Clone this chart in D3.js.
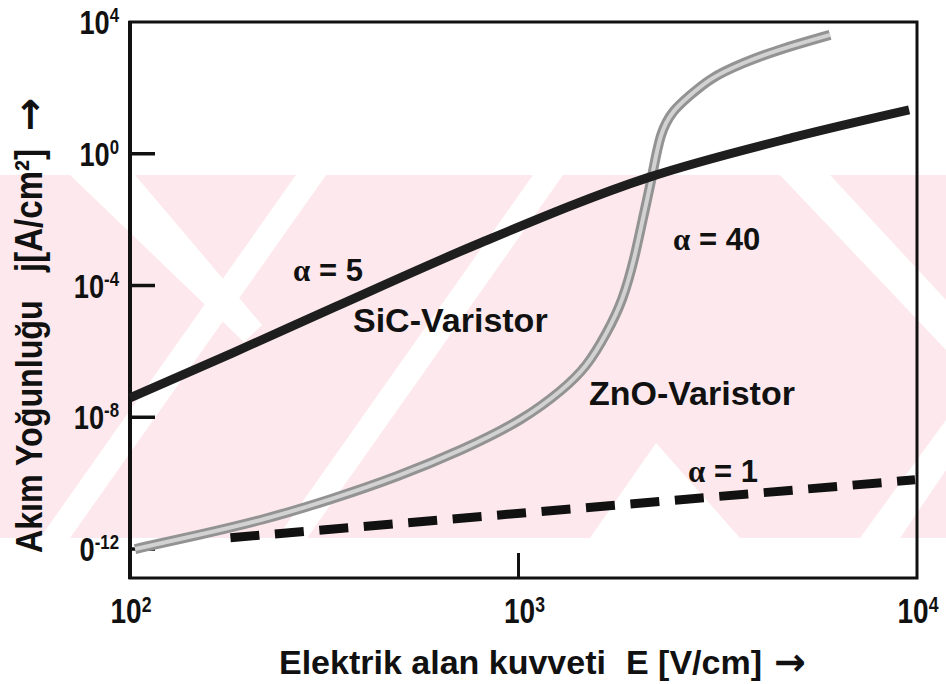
<!DOCTYPE html>
<html>
<head>
<meta charset="utf-8">
<script src="https://cdn.jsdelivr.net/npm/d3@7/dist/d3.min.js"></script>
<style>
  body { margin: 0; background: #fff; }
  text { font-family: "Liberation Sans", Arial, sans-serif; font-weight: bold; fill: #111; }
</style>
</head>
<body>
<script>
// electric field E [V/cm] and current density j [A/cm2]
var sicE = [100, 182, 331, 776, 2089, 4898, 9550];
var sicJ = [3.9e-8, 8.9e-7, 2.2e-5, 1.95e-3, 0.195, 3.24, 21.4];

var znoE = [103, 148, 218, 322, 478, 701, 998, 1259, 1449, 1629, 1791, 1919, 2014, 2123, 2223, 2399, 2618, 2979, 3614, 4406, 6012];
var znoJ = [1.0e-12, 2.6e-12, 7.6e-12, 3.1e-11, 1.55e-10, 1.02e-9, 8.3e-9, 6.8e-8, 3.4e-7, 3.6e-6, 3.6e-5, 7.4e-4, 0.012, 0.195, 4.5, 21, 52, 200, 575, 1410, 4070];

var ohmE = [180, 9886];
var ohmJ = [2.2e-12, 1.26e-10];

// tick positions and labels
var xTicks = [1e2, 1e3, 1e4];
var xTickExp = ["2", "3", "4"];
var yLabelVals = [1e4, 1, 1e-4, 1e-8, 1e-12];
var yLabelBase = ["10", "10", "10", "10", "0"];
var yLabelExp = ["4", "0", "-4", "-8", "-12"];
var yTickMarks = [1, 1e-4, 1e-8, 1e-12];
var xTickMarks = [1e3];

var width = 946, height = 684;

var svg = d3.select("body").append("svg")
    .attr("width", width)
    .attr("height", height);

var x = d3.scaleLog().domain([1e2, 1e4]).range([130, 917]);
var y = d3.scaleLog().domain([Math.pow(10, -12.88), 1e4]).range([578, 22]);

// faint pink watermark band behind the chart
var wm = svg.append("g");
wm.append("rect").attr("x", 0).attr("y", 175).attr("width", width).attr("height", 363)
    .attr("fill", "#fde9ed");
var whiteShapes = [
  [[70,175],[135,175],[262,325],[244,342]],
  [[40,538],[70,538],[326,175],[296,175]],
  [[277,538],[307,538],[563,175],[533,175]],
  [[590,538],[656,443],[740,538]],
  [[780,175],[830,175],[946,300],[946,350]],
  [[860,538],[900,538],[946,470],[946,420]]
];
wm.selectAll("polygon").data(whiteShapes).enter().append("polygon")
    .attr("points", function(d) { return d.join(" "); })
    .attr("fill", "#fff");

// frame
svg.append("rect")
    .attr("x", x.range()[0]).attr("y", y.range()[1])
    .attr("width", x.range()[1] - x.range()[0])
    .attr("height", y.range()[0] - y.range()[1])
    .attr("fill", "none").attr("stroke", "#111").attr("stroke-width", 3);
svg.append("line")
    .attr("x1", 130).attr("x2", 130).attr("y1", 21).attr("y2", 579)
    .attr("stroke", "#111").attr("stroke-width", 4);

// inward ticks
svg.selectAll(".ytick").data(yTickMarks).enter().append("line")
    .attr("x1", 130).attr("x2", 155)
    .attr("y1", function(d) { return y(d); }).attr("y2", function(d) { return y(d); })
    .attr("stroke", "#111").attr("stroke-width", 3.5);
svg.selectAll(".xtick").data(xTickMarks).enter().append("line")
    .attr("x1", function(d) { return x(d) - 5; }).attr("x2", function(d) { return x(d) - 5; })
    .attr("y1", 578).attr("y2", 553)
    .attr("stroke", "#111").attr("stroke-width", 3);

var line = d3.line()
    .x(function(d) { return x(d[0]); })
    .y(function(d) { return y(d[1]); })
    .curve(d3.curveMonotoneX);
var smooth = d3.line()
    .x(function(d) { return x(d[0]); })
    .y(function(d) { return y(d[1]); })
    .curve(d3.curveBasis);

// ohmic reference, alpha = 1
svg.append("path")
    .attr("d", line(d3.zip(ohmE, ohmJ)))
    .attr("fill", "none").attr("stroke", "#111").attr("stroke-width", 9)
    .attr("stroke-dasharray", "29 15.6");

// ZnO varistor (grey band)
var zno = d3.zip(znoE, znoJ);
svg.append("path").attr("d", smooth(zno))
    .attr("fill", "none").attr("stroke", "#939393").attr("stroke-width", 10);
svg.append("path").attr("d", smooth(zno))
    .attr("fill", "none").attr("stroke", "#d2d2d2").attr("stroke-width", 4);

// SiC varistor (dark band)
svg.append("path").attr("d", line(d3.zip(sicE, sicJ)))
    .attr("fill", "none").attr("stroke", "#1e1e1e").attr("stroke-width", 9);

// y tick labels
var yl = svg.selectAll(".ylab").data(yLabelVals).enter().append("g")
    .attr("transform", function(d) { return "translate(119," + (y(d) + 12) + ") scale(0.8,1)"; });
var ylt = yl.append("text").attr("text-anchor", "end").style("font-size", "34px");
ylt.append("tspan").text(function(d, i) { return yLabelBase[i]; });
ylt.append("tspan").attr("dy", -12).style("font-size", "21px").text(function(d, i) { return yLabelExp[i]; });

// x tick labels
var xl = svg.selectAll(".xlab").data(xTicks).enter().append("g")
    .attr("transform", function(d) { return "translate(" + (x(d) + 1) + ",623) scale(0.8,1)"; });
var xlt = xl.append("text").attr("text-anchor", "middle").style("font-size", "35px");
xlt.append("tspan").text("10");
xlt.append("tspan").attr("dy", -11).style("font-size", "22px").text(function(d, i) { return xTickExp[i]; });

// axis titles
svg.append("text").attr("x", 279).attr("y", 674).style("font-size", "34px").text("Elektrik alan kuvveti");
svg.append("text").attr("x", 626).attr("y", 674).style("font-size", "34px").text("E [V/cm]");
svg.append("text").attr("x", 774).attr("y", 675)
    .style("font-family", "'DejaVu Sans', sans-serif").style("font-size", "38px").text("\u2192");

svg.append("g").attr("transform", "translate(42,553) rotate(-90) scale(0.87,1)")
  .append("text").style("font-size", "37px").text("Akım Yoğunluğu");
svg.append("g").attr("transform", "translate(42,272) rotate(-90) scale(0.87,1)")
  .append("text").style("font-size", "38px").text("j[A/cm²]");
svg.append("g").attr("transform", "translate(43,131) rotate(-90)")
  .append("text").style("font-family", "'DejaVu Sans', sans-serif").style("font-size", "40px").text("\u2192");

// curve annotations
function alphaLabel(px, py, val) {
  var t = svg.append("text").attr("x", px).attr("y", py).style("font-size", "31px");
  t.append("tspan").style("font-family", "'Liberation Serif', serif").text("α");
  t.append("tspan").text(" = " + val);
}
alphaLabel(293, 281, "5");
alphaLabel(673, 250, "40");
alphaLabel(688, 482, "1");
svg.append("text").attr("x", 353).attr("y", 332).style("font-size", "34px").text("SiC-Varistor");
svg.append("text").attr("x", 589).attr("y", 405).style("font-size", "34px").text("ZnO-Varistor");
</script>
</body>
</html>
